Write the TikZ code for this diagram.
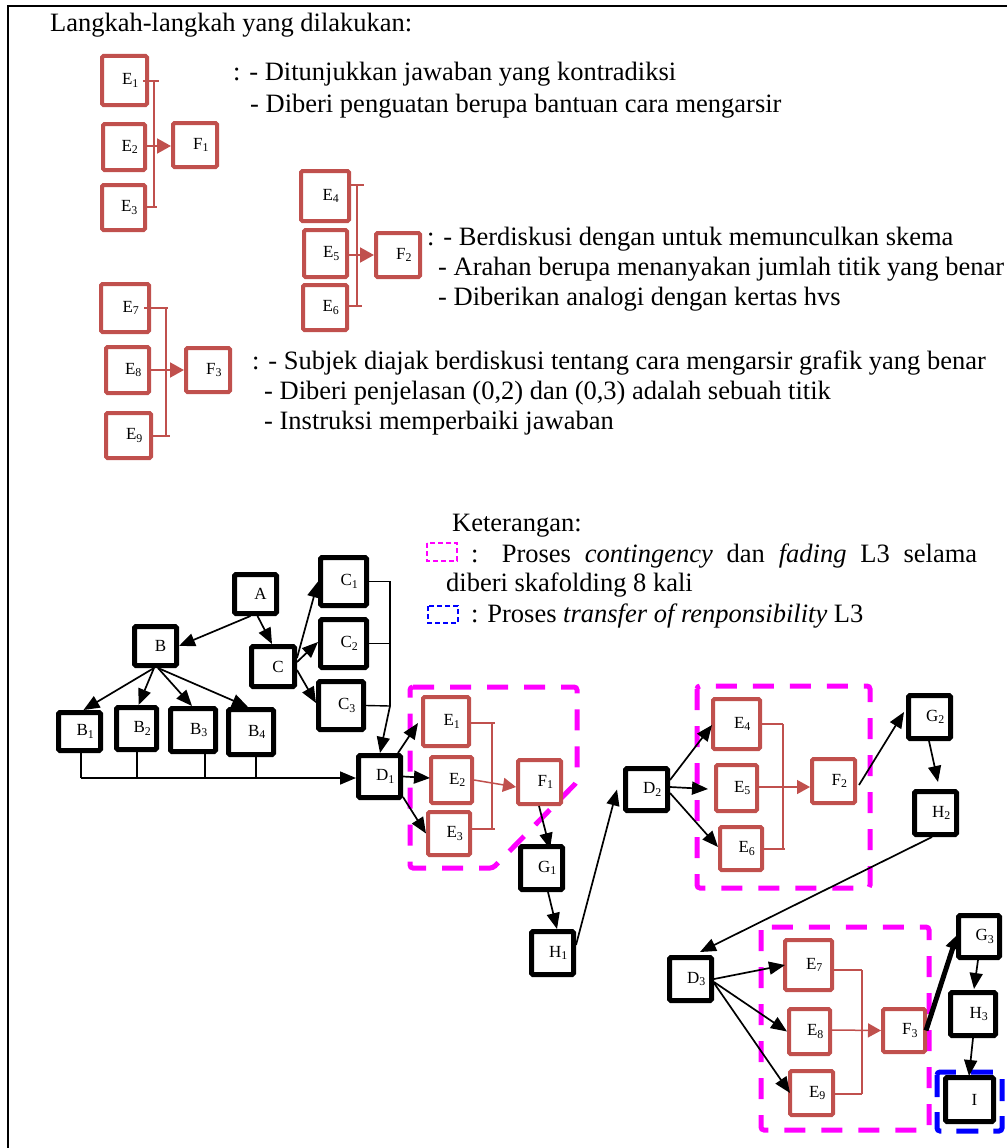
\documentclass[tikz,border=0pt]{standalone}
\usepackage{fontspec}
\setmainfont{Liberation Serif}
\usetikzlibrary{arrows.meta}
\definecolor{boxred}{RGB}{192,80,77}
\definecolor{mag}{RGB}{255,0,255}
\newcommand\lbl[2]{\hspace*{12pt}#1\textsubscript{#2}}
\newcommand\lbz[1]{\hspace*{10pt}#1}
\tikzset{
  every node/.style={inner sep=0pt},
  txt/.style={anchor=base west,font=\fontsize{26.5}{31}\selectfont},
  bbox/.style={draw=black,line width=5pt,rounded corners=1.5pt,fill=white,font=\fontsize{17}{19}\selectfont},
  rbox/.style={draw=boxred,line width=4pt,rounded corners=1.5pt,fill=white,font=\fontsize{17}{19}\selectfont},
  sz/.style 2 args={minimum width=#1,minimum height=#2},
  arr/.style={draw=black,line width=1.7pt,-{Triangle[length=16pt,width=13pt]}},
  thinl/.style={draw=black,line width=1.4pt},
  brk/.style={draw=boxred,line width=1.3pt},
  rarr/.style={draw=boxred,line width=1.5pt,-{Triangle[length=13pt,width=14pt]}},
  rarrT/.style={draw=boxred,line width=2pt,-{Triangle[length=14pt,width=15pt]}},
  magdash/.style={draw=mag,line width=5pt,dash pattern=on 21pt off 16pt},
  bluedash/.style={draw=blue,line width=5pt,dash pattern=on 22pt off 15pt}
}
\begin{document}
\begin{tikzpicture}[x=1pt,y=-1pt]
\useasboundingbox (0,0) rectangle (1007,1148);
% page frame
\draw[line width=2.3pt] (8,1148) -- (8,6) -- (1007,6);

% ---------- heading ----------
\node[txt] (title) at (50,31.7) {Langkah-langkah yang dilakukan:};

% ---------- first step: E1,E2,E3 -> F1 ----------
\node[rbox,sz={45pt}{49pt}] (tE1) at (124.5,80.5) {\lbl{E}{1}};
\node[rbox,sz={42pt}{46pt}] (tE2) at (124,147) {\lbl{E}{2}};
\node[rbox,sz={43pt}{45pt}] (tE3) at (123.5,207.5) {\lbl{E}{3}};
\node[rbox,sz={44pt}{44pt}] (tF1) at (195,145) {\lbl{F}{1}};
\coordinate (ta1) at (154,81);
\coordinate (tb1) at (154,207);
\draw[brk] ([xshift=-6pt,yshift=-0.5pt]tE1.east) -- ([xshift=5pt]ta1);
\draw[brk] (ta1) -- (tb1);
\draw[brk] ([yshift=0.5pt]tE3.east) -- ([xshift=3pt]tb1);
\draw[rarrT] ([yshift=1pt]tE2.east) -- ([yshift=-1pt]tF1.west);
\node[txt] (g1a) at (233,81) {: - Ditunjukkan jawaban yang kontradiksi};
\node[txt] (g1b) at (250,112.7) {- Diberi penguatan berupa bantuan cara mengarsir};

% ---------- second step: E4,E5,E6 -> F2 ----------
\node[rbox,sz={48pt}{50pt}] (tE4) at (325,196) {\lbl{E}{4}};
\node[rbox,sz={43pt}{47pt}] (tE5) at (325.5,253.5) {\lbl{E}{5}};
\node[rbox,sz={44pt}{45pt}] (tE6) at (325,307.5) {\lbl{E}{6}};
\node[rbox,sz={44pt}{44pt}] (tF2) at (398,255) {\lbl{F}{2}};
\coordinate (ta2) at (357,185);
\coordinate (tb2) at (357,306);
\draw[brk] (tE4.east |- ta2) -- ([xshift=7pt]ta2);
\draw[brk] (ta2) -- (tb2);
\draw[brk] (tE6.east |- tb2) -- ([xshift=5pt]tb2);
\draw[rarrT] ([yshift=-1.5pt]tE5.east) -- (tF2.west);
\node[txt] (g2a) at (427,245) {: - Berdiskusi dengan untuk memunculkan skema};
\node[txt] (g2b) at (438,275) {- Arahan berupa menanyakan jumlah titik yang benar};
\node[txt] (g2c) at (438,305) {- Diberikan analogi dengan kertas hvs};

% ---------- third step: E7,E8,E9 -> F3 ----------
\node[rbox,sz={48pt}{48pt}] (tE7) at (125,308) {\lbl{E}{7}};
\node[rbox,sz={43pt}{46pt}] (tE8) at (127.5,370) {\lbl{E}{8}};
\node[rbox,sz={45pt}{45pt}] (tE9) at (128.5,435.5) {\lbl{E}{9}};
\node[rbox,sz={44pt}{44pt}] (tF3) at (208,370) {\lbl{F}{3}};
\coordinate (ta3) at (166,308);
\coordinate (tb3) at (166,436);
\draw[brk] ([xshift=-7pt]tE7.east |- ta3) -- ([xshift=2pt]ta3);
\draw[brk] (ta3) -- (tb3);
\draw[brk] (tE9.east |- tb3) -- ([xshift=4pt]tb3);
\draw[rarrT] (tE8.east) -- (tF3.west);
\node[txt] (g3a) at (252,369) {: - Subjek diajak berdiskusi tentang cara mengarsir grafik yang benar};
\node[txt] (g3b) at (264,399) {- Diberi penjelasan (0,2) dan (0,3) adalah sebuah titik};
\node[txt] (g3c) at (264,429) {- Instruksi memperbaiki jawaban};

% ---------- legend ----------
\node[txt] (ket) at (452,531) {Keterangan:};
\draw[draw=mag,line width=1.5pt,dash pattern=on 5pt off 3pt] (427,543) rectangle (457,561);
\node[txt] (leg1) at (471,562) {\makebox[506pt][s]{: Proses \textit{contingency} dan \textit{fading} L3 selama}};
\node[txt] (leg1b) at (446,591) {diberi skafolding 8 kali};
\draw[draw=blue,line width=1.5pt,dash pattern=on 5pt off 3pt] (428,606) rectangle (458,623);
\node[txt] (leg2) at (471,622) {: Proses \textit{transfer of renponsibility} L3};

% ---------- dashed regions ----------
\draw[magdash,rounded corners=3pt] (410,687) -- (577,687) -- (577,782) -- (493,868) -- (410,868) -- cycle;
\draw[magdash,rounded corners=3pt] (697,686) rectangle (870,888);
\draw[magdash,rounded corners=3pt] (761,927) rectangle (929,1130);
\draw[bluedash,rounded corners=3pt] (937,1072) rectangle (1002,1131);

% ---------- flow: A, B, C ----------
\node[bbox,sz={42pt}{39pt}] (A) at (255.5,594) {\lbz{A}};
\node[bbox,sz={42pt}{39pt}] (B) at (155.5,646) {\lbz{B}};
\node[bbox,sz={43pt}{40pt}] (C) at (273,666.5) {\lbz{C}};
\node[bbox,sz={46pt}{48pt}] (C1) at (343.5,581.5) {\lbl{C}{1}};
\node[bbox,sz={46pt}{48pt}] (C2) at (343.5,643.5) {\lbl{C}{2}};
\node[bbox,sz={45pt}{48pt}] (C3) at (341,705.5) {\lbl{C}{3}};
\node[bbox,sz={42pt}{38pt}] (B1) at (79.5,731.5) {\lbl{B}{1}};
\node[bbox,sz={40pt}{42pt}] (B2) at (136.5,728.5) {\lbl{B}{2}};
\node[bbox,sz={45pt}{43pt}] (B3) at (193,730) {\lbl{B}{3}};
\node[bbox,sz={45pt}{45pt}] (B4) at (251,732) {\lbl{B}{4}};
\node[bbox,sz={42pt}{42pt}] (D1) at (379.5,776.5) {\lbl{D}{1}};

\draw[arr] ([xshift=-5pt]A.south) -- (B.east);
\draw[arr] ([xshift=2pt]A.south) -- ([xshift=-1pt]C.north);
\draw[arr] ([yshift=8.5pt]C.east) -- (C1.west);
\draw[arr] ([yshift=4.5pt]C.east) -- ([yshift=1.5pt]C2.west);
\draw[arr] ([yshift=-3.5pt]C.east) -- ([yshift=2.5pt]C3.west);
\draw[arr] ([xshift=-1.5pt]B.south) -- ([xshift=4pt]B1.north);
\draw[arr] ([xshift=-1.5pt]B.south) -- ([xshift=2pt]B2.north);
\draw[arr] ([xshift=2.5pt]B.south) -- ([xshift=-1pt]B3.north);
\draw[arr] ([xshift=2.5pt]B.south) -- ([xshift=-3pt]B4.north);

% C-branches join and lead to D1
\coordinate (cbus) at (390,706);
\draw[thinl] (C1.east) -| (cbus);
\draw[thinl] (C2.east) -- (C2.east -| cbus);
\draw[thinl] (C3.east) -- (cbus);
\draw[arr] (cbus) -- ([xshift=0.5pt]D1.north);
% B-branches join and lead to D1
\coordinate (bbus) at (81,778);
\draw[thinl] ([xshift=1.5pt]B1.south) -- (bbus);
\draw[thinl] ([xshift=0.5pt]B2.south) -- ([xshift=0.5pt]B2.south |- bbus);
\draw[thinl] ([xshift=12pt]B3.south) -- ([xshift=12pt]B3.south |- bbus);
\draw[thinl] ([xshift=5pt]B4.south) -- ([xshift=5pt]B4.south |- bbus);
\draw[arr] (bbus) -- (D1.west |- bbus);

% ---------- first scaffolding round ----------
\node[rbox,sz={46pt}{49pt}] (E1) at (446,721.5) {\lbl{E}{1}};
\node[rbox,sz={41pt}{46pt}] (E2) at (451.5,780) {\lbl{E}{2}};
\node[rbox,sz={42pt}{43pt}] (E3) at (449,833.5) {\lbl{E}{3}};
\node[rbox,sz={43pt}{44pt}] (F1) at (539.5,782) {\lbl{F}{1}};
\node[bbox,sz={42pt}{43pt}] (G1) at (541.5,868) {\lbl{G}{1}};
\node[bbox,sz={42pt}{43pt}] (H1) at (552.5,953) {\lbl{H}{1}};

\draw[arr] ([xshift=-5pt]D1.north east) -- ([xshift=-3pt,yshift=-1.5pt]E1.west);
\draw[arr] (D1.east) -- ([xshift=1pt,yshift=2pt]E2.west);
\draw[arr] ([yshift=3pt]D1.south east) -- (E3.west);
\coordinate (a1) at (492,723);
\coordinate (b1) at (492,829);
\draw[brk] (E1.east |- a1) -- ([xshift=3pt]a1);
\draw[brk] (a1) -- (b1);
\draw[brk] (E3.east |- b1) -- ([xshift=3pt]b1);
\draw[rarr] (E2.east) -- ([yshift=-5pt]F1.west);
\draw[arr] ([xshift=-0.5pt]F1.south) -- ([xshift=8.5pt,yshift=-5pt]G1.north);
\draw[arr] ([xshift=6.5pt]G1.south) -- ([xshift=4.5pt]H1.north);

% ---------- second scaffolding round ----------
\node[bbox,sz={42pt}{42pt}] (D2) at (646.5,789.5) {\lbl{D}{2}};
\node[rbox,sz={47pt}{50pt}] (E4) at (736.5,724) {\lbl{E}{4}};
\node[rbox,sz={41pt}{46pt}] (E5) at (736.5,788) {\lbl{E}{5}};
\node[rbox,sz={42pt}{43pt}] (E6) at (741,848.5) {\lbl{E}{6}};
\node[rbox,sz={43pt}{44pt}] (F2) at (833.5,781) {\lbl{F}{2}};
\node[bbox,sz={42pt}{43pt}] (G2) at (929.5,717) {\lbl{G}{2}};
\node[bbox,sz={42pt}{43pt}] (H2) at (935.5,813) {\lbl{H}{2}};

\draw[arr] ([yshift=8pt]H1.east) -- ([xshift=-6pt]D2.west);
\draw[arr] ([yshift=9.5pt]D2.east) -- ([xshift=1pt,yshift=-1pt]E4.west);
\draw[arr] ([yshift=2.5pt]D2.east) -- ([xshift=-6pt,yshift=-1pt]E5.west);
\draw[arr] ([yshift=-3.5pt]D2.east) -- ([yshift=1.5pt]E6.west);
\coordinate (a2) at (783,724);
\coordinate (b2) at (783,849);
\draw[brk] (E4.east |- a2) -- (a2);
\draw[brk] (a2) -- (b2);
\draw[brk] (E6.east |- b2) -- ([xshift=2pt]b2);
\draw[rarr] ([yshift=1pt]E5.east) -- ([yshift=-6pt]F2.west);
\draw[arr] ([xshift=2pt,yshift=-4pt]F2.east) -- ([xshift=-2pt,yshift=5pt]G2.west);
\draw[arr] ([xshift=-0.5pt]G2.south) -- ([xshift=2.5pt,yshift=7pt]H2.north);

% ---------- third scaffolding round ----------
\node[bbox,sz={42pt}{43pt}] (D3) at (690.5,979) {\lbl{D}{3}};
\node[rbox,sz={47pt}{50pt}] (E7) at (808.5,965) {\lbl{E}{7}};
\node[rbox,sz={41pt}{45pt}] (E8) at (809.5,1031.5) {\lbl{E}{8}};
\node[rbox,sz={43pt}{44pt}] (E9) at (811.5,1093) {\lbl{E}{9}};
\node[rbox,sz={42pt}{43pt}] (F3) at (904,1030.5) {\lbl{F}{3}};
\node[bbox,sz={41pt}{42pt}] (G3) at (979,936.5) {\lbl{G}{3}};
\node[bbox,sz={45pt}{43pt}] (H3) at (973,1014) {\lbl{H}{3}};
\node[bbox,sz={48pt}{44pt}] (I) at (969.5,1099.5) {\lbz{I}};

\draw[arr] ([xshift=-3.5pt]H2.south) -- ([xshift=9.5pt,yshift=3pt]D3.north);
\draw[arr] (D3.east) -- ([xshift=2pt]E7.west);
\draw[arr] ([yshift=-3pt]D3.east) -- (E8.west);
\draw[arr] ([yshift=-4pt]D3.east) -- ([xshift=2pt]E9.west);
\coordinate (a3) at (862,970);
\coordinate (b3) at (862,1094);
\draw[brk] (E7.east |- a3) -- (a3);
\draw[brk] (a3) -- (b3);
\draw[brk] (E9.east |- b3) -- (b3);
\draw[rarr] ([yshift=1.5pt]E8.east) -- (F3.west);
\draw[draw=black,line width=5pt,-{Triangle[length=14pt,width=14pt]}] ([xshift=-1pt]F3.east) -- ([xshift=1pt,yshift=1.5pt]G3.west);
\draw[arr] ([xshift=-1pt]G3.south) -- ([xshift=1pt,yshift=1pt]H3.north);
\draw[arr] (H3.south) -- ([xshift=-0.5pt,yshift=-1pt]I.north);
\end{tikzpicture}
\end{document}
